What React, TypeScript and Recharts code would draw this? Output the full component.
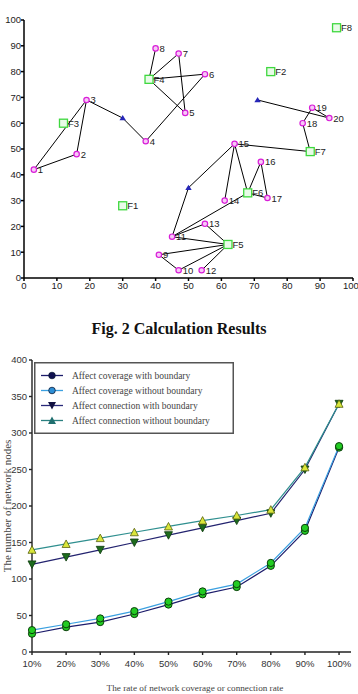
import {
  ScatterChart,
  Scatter,
  LineChart,
  Line,
  XAxis,
  YAxis,
  ReferenceLine,
  Legend,
} from "recharts";

type Node = { name: string; x: number; y: number };

// sensor nodes (pink circles)
const sensorNodes: Node[] = [
  { name: "1", x: 3, y: 42 },
  { name: "2", x: 16, y: 48 },
  { name: "3", x: 19, y: 69 },
  { name: "4", x: 37, y: 53 },
  { name: "5", x: 49, y: 64 },
  { name: "6", x: 55, y: 79 },
  { name: "7", x: 47, y: 87 },
  { name: "8", x: 40, y: 89 },
  { name: "9", x: 41, y: 9 },
  { name: "10", x: 47, y: 3 },
  { name: "11", x: 45, y: 16 },
  { name: "12", x: 54, y: 3 },
  { name: "13", x: 55, y: 21 },
  { name: "14", x: 61, y: 30 },
  { name: "15", x: 64, y: 52 },
  { name: "16", x: 72, y: 45 },
  { name: "17", x: 74, y: 31 },
  { name: "18", x: 84.7, y: 60 },
  { name: "19", x: 87.6, y: 66 },
  { name: "20", x: 92.8, y: 62 },
];

// sink nodes (green squares)
const sinkNodes: Node[] = [
  { name: "F1", x: 30, y: 28 },
  { name: "F2", x: 75, y: 80 },
  { name: "F3", x: 12, y: 60 },
  { name: "F4", x: 38, y: 77 },
  { name: "F5", x: 62, y: 13 },
  { name: "F6", x: 68, y: 33 },
  { name: "F7", x: 87, y: 49 },
  { name: "F8", x: 95, y: 97 },
];

// relay nodes (blue triangles)
const relayNodes: Node[] = [
  { name: "R1", x: 30, y: 62 },
  { name: "R2", x: 71, y: 69 },
  { name: "R3", x: 50, y: 35 },
];

const links: [string, string][] = [
  ["1", "3"], ["1", "2"], ["2", "3"], ["3", "R1"], ["R1", "4"], ["4", "6"],
  ["F4", "6"], ["F4", "8"], ["F4", "7"], ["F4", "5"], ["7", "5"],
  ["R2", "20"], ["20", "19"], ["19", "18"], ["18", "F7"], ["15", "F7"],
  ["15", "R3"], ["R3", "11"], ["15", "14"], ["15", "F6"], ["F6", "16"],
  ["16", "17"], ["F6", "17"], ["11", "F6"], ["11", "13"], ["13", "F5"],
  ["11", "F5"], ["9", "F5"], ["10", "F5"], ["12", "F5"], ["9", "10"],
];

const fieldTicks = [0, 10, 20, 30, 40, 50, 60, 70, 80, 90, 100];

const rates = [10, 20, 30, 40, 50, 60, 70, 80, 90, 100];
const coverageWithBoundary = [25, 34, 41, 52, 65, 79, 89, 118, 166, 280];
const coverageWithoutBoundary = [30, 38, 46, 56, 69, 83, 93, 122, 170, 282];
const connectionWithBoundary = [120, 130, 140, 150, 160, 170, 180, 190, 250, 340];
const connectionWithoutBoundary = [140, 148, 156, 164, 172, 180, 187, 195, 253, 340];
const nodeTicks = [0, 50, 100, 150, 200, 250, 300, 350, 400];

const allNodes = [...sensorNodes, ...sinkNodes, ...relayNodes];
const byName = (n: string) => allNodes.find((d) => d.name === n)!;

const rateRows = rates.map((rate, i) => ({
  rate,
  covWith: coverageWithBoundary[i],
  covWithout: coverageWithoutBoundary[i],
  conWith: connectionWithBoundary[i],
  conWithout: connectionWithoutBoundary[i],
}));

const sans = "'Liberation Sans', Arial, sans-serif";
const serif = "'Liberation Serif', 'Times New Roman', serif";

const SensorDot = (p: any) => (
  <g>
    <circle cx={p.cx} cy={p.cy} r={2.7} fill="#f7c8f7" stroke="#d81ed8" strokeWidth={1.2} />
    <text x={p.cx + 4} y={p.cy} dominantBaseline="central" fontSize={9.5} fill="#222" fontFamily={sans}>
      {p.payload.name}
    </text>
  </g>
);

const SinkDot = (p: any) => (
  <g>
    <rect x={p.cx - 4} y={p.cy - 4} width={8} height={8} fill="#e8fbe8" stroke="#3fd83f" strokeWidth={1.3} />
    <text x={p.cx + 4.5} y={p.cy} dominantBaseline="central" fontSize={9.5} fill="#222" fontFamily={sans}>
      {p.payload.name}
    </text>
  </g>
);

const RelayDot = (p: any) => (
  <polygon
    points={`${p.cx},${p.cy - 3} ${p.cx + 3.2},${p.cy + 2.2} ${p.cx - 3.2},${p.cy + 2.2}`}
    fill="#2626b8"
  />
);

const circleMark = (p: any) => (
  <circle key={p.index} cx={p.cx} cy={p.cy} r={3.6} fill="#22cc22" stroke="#0b3d0b" strokeWidth={1} />
);

const downMark = (p: any) => (
  <polygon
    key={p.index}
    points={`${p.cx - 4},${p.cy - 3.5} ${p.cx + 4},${p.cy - 3.5} ${p.cx},${p.cy + 4}`}
    fill="#1d6b1d"
    stroke="#0d3a0d"
    strokeWidth={0.8}
  />
);

const upMark = (p: any) => (
  <polygon
    key={p.index}
    points={`${p.cx - 4},${p.cy + 3.5} ${p.cx + 4},${p.cy + 3.5} ${p.cx},${p.cy - 4}`}
    fill="#d9e63a"
    stroke="#55600f"
    strokeWidth={0.8}
  />
);

const legendRows = [
  { label: "Affect coverage with boundary", line: "#1c1c6b", kind: "circle", fill: "#101050" },
  { label: "Affect coverage without boundary", line: "#3ba0e0", kind: "circle", fill: "#2d8fd6" },
  { label: "Affect connection with boundary", line: "#2a2a7a", kind: "down", fill: "#101040" },
  { label: "Affect connection without boundary", line: "#2a8080", kind: "up", fill: "#1f6f6f" },
];

const LegendBox = () => (
  <svg width={200} height={72} style={{ display: "block" }}>
    <rect x={0.75} y={0.75} width={198.5} height={70.5} fill="#fff" stroke="#555" strokeWidth={1.5} />
    {legendRows.map((r, i) => {
      const y = 13.5 + i * 15;
      const cx = 18;
      return (
        <g key={r.label}>
          <line x1={7} x2={29} y1={y} y2={y} stroke={r.line} strokeWidth={1.3} />
          {r.kind === "circle" && <circle cx={cx} cy={y} r={3.3} fill={r.fill} stroke="#0c1c3a" strokeWidth={0.8} />}
          {r.kind === "down" && (
            <polygon points={`${cx - 4},${y - 3.5} ${cx + 4},${y - 3.5} ${cx},${y + 4}`} fill={r.fill} />
          )}
          {r.kind === "up" && (
            <polygon points={`${cx - 4},${y + 3.5} ${cx + 4},${y + 3.5} ${cx},${y - 4}`} fill={r.fill} />
          )}
          <text x={38} y={y} dominantBaseline="central" fontSize={9.5} fill="#444" fontFamily={serif}>
            {r.label}
          </text>
        </g>
      );
    })}
  </svg>
);

const YTitle = (p: any) => {
  const cy = p.viewBox.y + p.viewBox.height / 2;
  return (
    <text
      x={6.5}
      y={cy}
      transform={`rotate(-90 6.5 ${cy})`}
      textAnchor="middle"
      dominantBaseline="central"
      fontSize={11}
      fill="#444"
      fontFamily={serif}
    >
      The number of network nodes
    </text>
  );
};

const XTitle = (p: any) => (
  <text
    x={195}
    y={p.viewBox.y + 39}
    textAnchor="middle"
    fontSize={9.2}
    fill="#444"
    fontFamily={serif}
  >
    The rate of network coverage or connection rate
  </text>
);

export default function App() {
  return (
    <div style={{ position: "absolute", left: 0, top: 0, width: 358, height: 694, background: "#fff" }}>
      <div style={{ position: "absolute", left: 0, top: 0 }}>
        <ScatterChart width={358} height={300} margin={{ top: 20, right: 5, bottom: 0, left: 0 }}>
          <XAxis
            type="number"
            dataKey="x"
            domain={[0, 100]}
            ticks={fieldTicks}
            height={22}
            tickSize={3}
            tickMargin={1}
            stroke="#000"
            strokeWidth={1.5}
            tick={{ fontSize: 9.5, fill: "#222", fontFamily: sans }}
          />
          <YAxis
            type="number"
            dataKey="y"
            domain={[0, 100]}
            ticks={fieldTicks}
            width={24}
            tickSize={3}
            tickMargin={0}
            stroke="#000"
            strokeWidth={1.5}
            tick={{ fontSize: 9.5, fill: "#222", fontFamily: sans }}
          />
          <XAxis
            xAxisId="top"
            orientation="top"
            type="number"
            domain={[0, 100]}
            ticks={fieldTicks}
            height={0}
            mirror
            tickSize={3}
            tickFormatter={() => ""}
            stroke="#000"
            strokeWidth={1.5}
          />
          <YAxis
            yAxisId="right"
            orientation="right"
            type="number"
            domain={[0, 100]}
            ticks={fieldTicks}
            width={0}
            mirror
            tickSize={3}
            tickFormatter={() => ""}
            stroke="#000"
            strokeWidth={1.5}
          />
          {links.map(([a, b]) => {
            const p = byName(a);
            const q = byName(b);
            return (
              <ReferenceLine
                key={a + "-" + b}
                segment={[{ x: p.x, y: p.y }, { x: q.x, y: q.y }]}
                stroke="#000"
                strokeWidth={1}
              />
            );
          })}
          <Scatter data={relayNodes} shape={RelayDot} isAnimationActive={false} />
          <Scatter data={sinkNodes} shape={SinkDot} isAnimationActive={false} />
          <Scatter data={sensorNodes} shape={SensorDot} isAnimationActive={false} />
        </ScatterChart>
      </div>

      <div
        style={{
          position: "absolute",
          left: 0,
          top: 321,
          width: 358,
          textAlign: "center",
          fontFamily: serif,
          fontWeight: "bold",
          fontSize: 16,
          lineHeight: "16px",
          color: "#111",
        }}
      >
        Fig. 2 Calculation Results
      </div>

      <div style={{ position: "absolute", left: 0, top: 340 }}>
        <LineChart width={358} height={354} data={rateRows} margin={{ top: 20, right: 7, bottom: 0, left: 0 }}>
          <XAxis
            type="number"
            dataKey="rate"
            domain={[10, 103.5]}
            ticks={rates}
            tickFormatter={(v) => `${v}%`}
            height={42}
            tickSize={3}
            tickMargin={5}
            stroke="#222"
            strokeWidth={1.4}
            tick={{ fontSize: 9.5, fill: "#333", fontFamily: sans }}
            label={<XTitle />}
          />
          <YAxis
            type="number"
            domain={[0, 400]}
            ticks={nodeTicks}
            width={32}
            tickSize={3}
            tickMargin={2}
            stroke="#222"
            strokeWidth={1.4}
            tick={{ fontSize: 9.5, fill: "#333", fontFamily: sans }}
            label={<YTitle />}
          />
          <XAxis
            xAxisId="top"
            orientation="top"
            type="number"
            domain={[10, 103.5]}
            height={0}
            tick={false}
            tickLine={false}
            stroke="#222"
            strokeWidth={1.4}
          />
          <YAxis
            yAxisId="right"
            orientation="right"
            type="number"
            domain={[0, 400]}
            width={0}
            tick={false}
            tickLine={false}
            stroke="#222"
            strokeWidth={1.4}
          />
          <Legend
            layout="horizontal"
            verticalAlign="middle"
            align="center"
            wrapperStyle={{ top: 22, left: 34, width: 200, height: 72 }}
            content={() => <LegendBox />}
          />
          <Line dataKey="covWith" stroke="#1c1c6b" strokeWidth={1.2} dot={circleMark} activeDot={false} isAnimationActive={false} />
          <Line dataKey="covWithout" stroke="#3ba0e0" strokeWidth={1.2} dot={circleMark} activeDot={false} isAnimationActive={false} />
          <Line dataKey="conWith" stroke="#23236f" strokeWidth={1.2} dot={downMark} activeDot={false} isAnimationActive={false} />
          <Line dataKey="conWithout" stroke="#2f8f8f" strokeWidth={1.2} dot={upMark} activeDot={false} isAnimationActive={false} />
        </LineChart>
      </div>
    </div>
  );
}
